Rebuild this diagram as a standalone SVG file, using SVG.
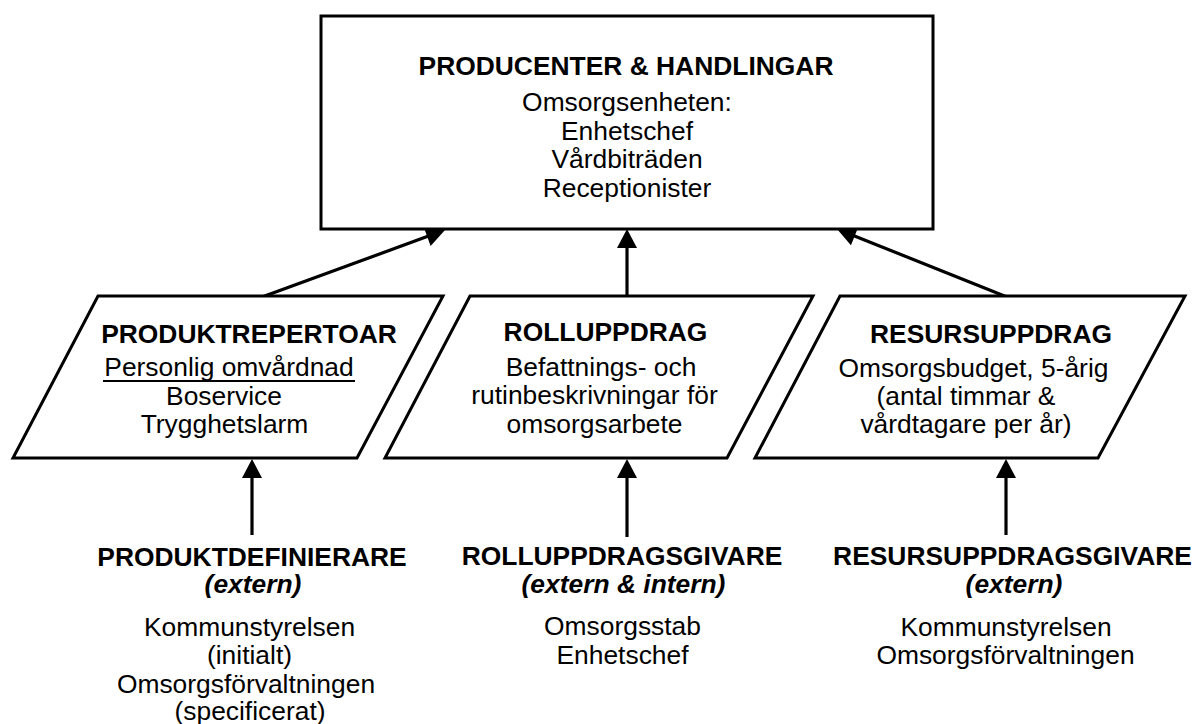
<svg xmlns="http://www.w3.org/2000/svg" width="1197" height="724" viewBox="0 0 1197 724">
  <defs>
    <style>
      .shape { fill: #fff; stroke: #000; stroke-width: 3; stroke-linejoin: miter; }
      .conn { fill: none; stroke: #000; stroke-width: 3.2; }
      text { font-family: "Liberation Sans", Arial, sans-serif; font-size: 26.4px; fill: #000; text-anchor: middle; }
      .b { font-weight: bold; }
      .bi { font-weight: bold; font-style: italic; }
    </style>
    <marker id="arrow" markerUnits="userSpaceOnUse" markerWidth="20" markerHeight="20" viewBox="0 0 19 20" refX="13" refY="10" orient="auto">
      <path d="M0,0 L19,10 L0,20 z" fill="#000"/>
    </marker>
  </defs>
  <rect width="1197" height="724" fill="#fff"/>

  <!-- Connectors -->
  <g id="connectors">
    <line class="conn" x1="262" y1="297" x2="439.4" y2="232.1" marker-end="url(#arrow)"/>
    <line class="conn" x1="627" y1="296" x2="627" y2="235" marker-end="url(#arrow)"/>
    <line class="conn" x1="1007" y1="297" x2="842.6" y2="231.2" marker-end="url(#arrow)"/>
    <line class="conn" x1="252" y1="535" x2="252" y2="465" marker-end="url(#arrow)"/>
    <line class="conn" x1="627" y1="537" x2="627" y2="465" marker-end="url(#arrow)"/>
    <line class="conn" x1="1006" y1="535" x2="1006" y2="465" marker-end="url(#arrow)"/>
  </g>

  <!-- Producer box -->
  <g id="producenter">
    <rect class="shape" x="321" y="16" width="612" height="213"/>
    <text class="b" x="626" y="75">PRODUCENTER &amp; HANDLINGAR</text>
    <text x="627" y="111">Omsorgsenheten:</text>
    <text x="627" y="139.5">Enhetschef</text>
    <text x="627" y="168">Vårdbiträden</text>
    <text x="627" y="196.5">Receptionister</text>
  </g>

  <!-- Product repertoire -->
  <g id="produktrepertoar">
    <polygon class="shape" points="98,296 443,296 357,458 13,458"/>
    <text class="b" x="249" y="343">PRODUKTREPERTOAR</text>
    <text x="229" y="376">Personlig omvårdnad</text>
    <line x1="103" y1="381" x2="355" y2="381" stroke="#000" stroke-width="2"/>
    <text x="224" y="405">Boservice</text>
    <text x="224.5" y="433">Trygghetslarm</text>
  </g>

  <!-- Role assignment -->
  <g id="rolluppdrag">
    <polygon class="shape" points="470,296 813,296 727,458 385,458"/>
    <text class="b" x="605.5" y="341">ROLLUPPDRAG</text>
    <text x="601" y="376">Befattnings- och</text>
    <text x="594.5" y="404">rutinbeskrivningar för</text>
    <text x="594.5" y="433">omsorgsarbete</text>
  </g>

  <!-- Resource assignment -->
  <g id="resursuppdrag">
    <polygon class="shape" points="840,296 1185,296 1098,458 755,458"/>
    <text class="b" x="991" y="343">RESURSUPPDRAG</text>
    <text x="973.5" y="377">Omsorgsbudget, 5-årig</text>
    <text x="966" y="405">(antal timmar &amp;</text>
    <text x="966" y="433">vårdtagare per år)</text>
  </g>

  <!-- Product definer -->
  <g id="produktdefinierare">
    <text class="b" x="252" y="566">PRODUKTDEFINIERARE</text>
    <text class="bi" x="253" y="593">(extern)</text>
    <text x="249.5" y="636">Kommunstyrelsen</text>
    <text x="249.5" y="664">(initialt)</text>
    <text x="246" y="693">Omsorgsförvaltningen</text>
    <text x="250" y="720">(specificerat)</text>
  </g>

  <!-- Role assigner -->
  <g id="rolluppdragsgivare">
    <text class="b" x="622" y="565">ROLLUPPDRAGSGIVARE</text>
    <text class="bi" x="623.5" y="593">(extern &amp; intern)</text>
    <text x="622.5" y="635">Omsorgsstab</text>
    <text x="622.5" y="664">Enhetschef</text>
  </g>

  <!-- Resource assigner -->
  <g id="resursuppdragsgivare">
    <text class="b" x="1012.5" y="565">RESURSUPPDRAGSGIVARE</text>
    <text class="bi" x="1014" y="593">(extern)</text>
    <text x="1006" y="636">Kommunstyrelsen</text>
    <text x="1005.5" y="664">Omsorgsförvaltningen</text>
  </g>
</svg>
